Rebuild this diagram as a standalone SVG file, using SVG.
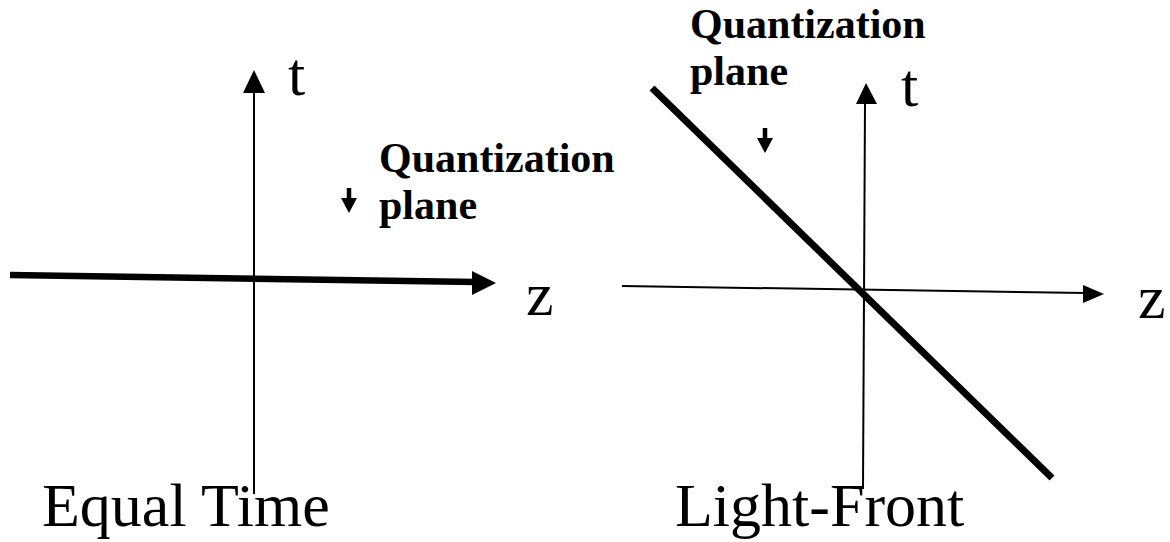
<svg xmlns="http://www.w3.org/2000/svg" width="1170" height="542" viewBox="0 0 1170 542">
  <style>
    .axis { stroke: #000; stroke-width: 2; fill: none; }
    .thick { stroke: #000; stroke-width: 6.5; fill: none; }
    .ptr { stroke: #000; stroke-width: 4.5; fill: none; }
    .head { fill: #000; stroke: none; }
    .sym { font-family: "Liberation Serif", "Times New Roman", serif; font-size: 62px; fill: #000; }
    .lbl { font-family: "Liberation Serif", "Times New Roman", serif; font-size: 42px; font-weight: bold; fill: #000; }
    .title { font-family: "Liberation Serif", "Times New Roman", serif; font-size: 62px; fill: #000; }
  </style>
  <rect width="1170" height="542" fill="#fff"/>

  <g id="connectors">
    <!-- Equal time: t axis -->
    <line class="axis" x1="254" y1="92" x2="254" y2="494"/>
    <polygon class="head" points="254,70 243,93 265,93"/>
    <!-- Equal time: quantization plane along z -->
    <line class="thick" x1="10" y1="275" x2="476" y2="282"/>
    <polygon class="head" points="496,283 472,271 472,295"/>
    <!-- Light-front: t axis -->
    <line class="axis" x1="865" y1="102" x2="863" y2="489"/>
    <polygon class="head" points="866,83 856,104 877,104"/>
    <!-- Light-front: z axis -->
    <line class="axis" x1="622" y1="286" x2="1086" y2="293"/>
    <polygon class="head" points="1104,294 1083,285 1083,303"/>
    <!-- Light-front quantization plane -->
    <line class="thick" x1="652" y1="88" x2="1052" y2="478" style="stroke-width:7"/>
    <!-- small pointer arrows -->
    <line class="ptr" x1="349" y1="188" x2="349" y2="200"/>
    <polygon class="head" points="349,213 341,198 357,198"/>
    <line class="ptr" x1="765" y1="128" x2="765" y2="140"/>
    <polygon class="head" points="765,153 757,138 773,138"/>
  </g>

  <g id="equal-time">
    <text class="sym" x="288" y="95">t</text>
    <text class="sym" x="526" y="315">z</text>
    <text class="lbl" x="379" y="172">Quantization</text>
    <text class="lbl" x="379" y="219">plane</text>
    <text class="title" x="42" y="526">Equal Time</text>
  </g>

  <g id="light-front">
    <text class="sym" x="901" y="106">t</text>
    <text class="sym" x="1138" y="318">z</text>
    <text class="lbl" x="690" y="38">Quantization</text>
    <text class="lbl" x="690" y="85">plane</text>
    <text class="title" x="675" y="526">Light-Front</text>
  </g>
</svg>
